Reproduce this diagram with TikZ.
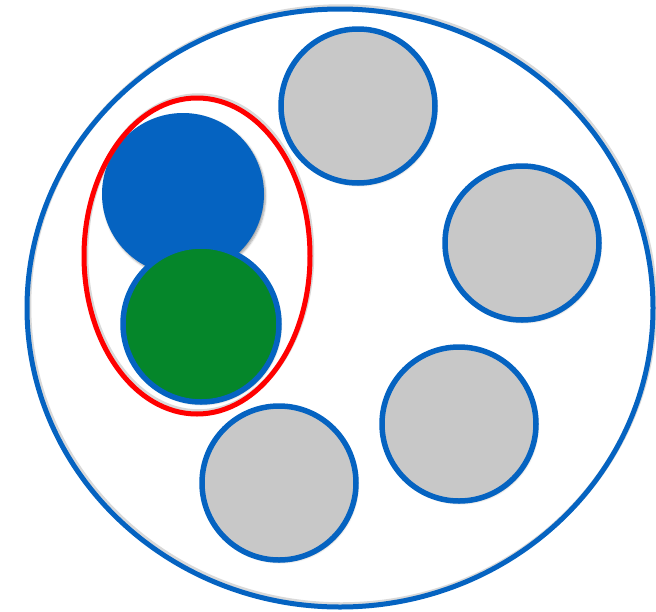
\documentclass[tikz,border=0pt]{standalone}
\usetikzlibrary{shadows.blur}
\definecolor{ublue}{RGB}{5,99,193}
\definecolor{ugray}{RGB}{200,200,200}
\definecolor{ugreen}{RGB}{5,134,42}
\definecolor{ured}{RGB}{255,0,0}
\begin{document}
\begin{tikzpicture}[x=1pt,y=-1pt,
  sh/.style={blur shadow={shadow xshift=1.5pt,shadow yshift=-2pt,shadow blur steps=5,shadow opacity=35,shadow blur radius=2pt}},
  ringsh/.style={draw=black!60,opacity=0.25,line width=5.5pt,xshift=1.5pt,yshift=2pt},
  graydisc/.style={draw=ublue,line width=5.5pt,fill=ugray,sh},
  bluedisc/.style={fill=ublue,sh},
  greendisc/.style={draw=ublue,line width=5.5pt,fill=ugreen,sh},
  redring/.style={draw=ured,line width=5pt},
  outer/.style={draw=ublue,line width=5pt}]
\useasboundingbox (0,0) rectangle (656,611);
\path[ringsh] (340,308) ellipse [x radius=313,y radius=299];
\path[outer] (340,308) ellipse [x radius=313,y radius=299];
\path[graydisc] (358,106) circle [radius=77] coordinate (g1);
\path[graydisc] (522,243) circle [radius=77] coordinate (g2);
\path[graydisc] (459,424) circle [radius=77] coordinate (g3);
\path[graydisc] (279,483) circle [radius=77] coordinate (g4);
\path[bluedisc] (183,194) circle [radius=81] coordinate (b);
\path[greendisc] (201,324) circle [radius=78] coordinate (gr);
\path[ringsh] (197,256) ellipse [x radius=113,y radius=158];
\path[redring] (197,256) ellipse [x radius=113,y radius=158];
\end{tikzpicture}
\end{document}
